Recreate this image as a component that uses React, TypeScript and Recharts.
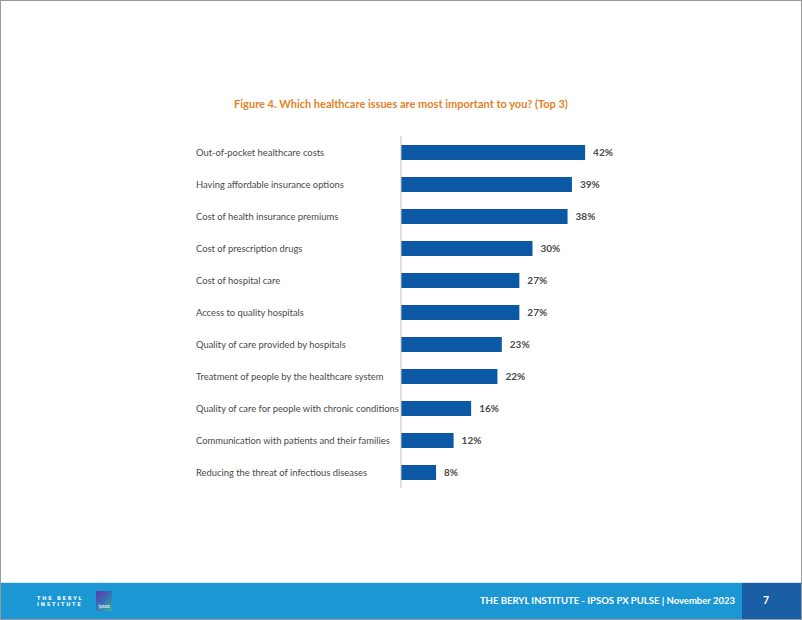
import React from "react";
import { BarChart, Bar, XAxis, YAxis, LabelList } from "recharts";

const categories = [
  "Out-of-pocket healthcare costs",
  "Having affordable insurance options",
  "Cost of health insurance premiums",
  "Cost of prescription drugs",
  "Cost of hospital care",
  "Access to quality hospitals",
  "Quality of care provided by hospitals",
  "Treatment of people by the healthcare system",
  "Quality of care for people with chronic conditions",
  "Communication with patients and their families",
  "Reducing the threat of infectious diseases",
];
const values = [42, 39, 38, 30, 27, 27, 23, 22, 16, 12, 8];

const data = categories.map((name, i) => ({ name, value: values[i] }));

const FONT = "Lato, 'Open Sans', sans-serif";

const LeftTick = (props: any) => {
  const { y, payload } = props;
  return (
    <text x={196} y={y} dy={3.5} textAnchor="start" fontSize={9.4} fill="#4a4a4a" fontFamily={FONT}>
      {payload.value}
    </text>
  );
};

export default function App() {
  return (
    <div style={{ position: "absolute", left: 0, top: 0, width: 802, height: 620, background: "#fff", overflow: "hidden", fontFamily: FONT }}>
      <div style={{ position: "absolute", left: 0, top: 0, width: 800, height: 618, border: "1px solid #9a9a9a", boxSizing: "content-box" }} />
      <div style={{ position: "absolute", left: 0, top: 97, width: 802, textAlign: "center", color: "#e0832a", fontWeight: 700, fontSize: 11 }}>
        Figure 4. Which healthcare issues are most important to you? (Top 3)
      </div>
      <div style={{ position: "absolute", left: 0, top: 0 }}>
        <BarChart
          width={802}
          height={620}
          data={data}
          layout="vertical"
          margin={{ top: 136, bottom: 132, left: 196, right: 138 }}
          barSize={15}
        >
          <XAxis type="number" domain={[0, 60]} hide />
          <YAxis
            type="category"
            dataKey="name"
            width={205}
            tick={<LeftTick />}
            tickLine={false}
            axisLine={{ stroke: "#bdbdbd" }}
            interval={0}
          />
          <Bar dataKey="value" fill="#0b59a4" isAnimationActive={false}>
            <LabelList
              dataKey="value"
              position="right"
              offset={8}
              formatter={(v: any) => `${v}%`}
              style={{ fontSize: 10, fontWeight: 700, fill: "#4a4a4a", fontFamily: FONT }}
            />
          </Bar>
        </BarChart>
      </div>
      <div style={{ position: "absolute", left: 1, top: 582, width: 800, height: 1, background: "#cfe9f6" }} />
      <div style={{ position: "absolute", left: 1, top: 583, width: 741, height: 36, background: "#1b98d4" }} />
      <div style={{ position: "absolute", left: 742, top: 583, width: 59, height: 36, background: "#1a5fa6" }} />
      <div style={{ position: "absolute", left: 37, top: 595, color: "#fff", fontSize: 5, fontWeight: 700, letterSpacing: 1.8, lineHeight: "6px", fontFamily: "DejaVu Sans, sans-serif" }}>
        <div>THE BERYL</div>
        <div>INSTITUTE</div>
      </div>
      <div style={{ position: "absolute", left: 96, top: 591, width: 16, height: 20, background: "linear-gradient(135deg, #5b3aa8 0%, #3b6fb8 50%, #2fb59a 100%)", color: "#fff", fontSize: 5, textAlign: "center", lineHeight: "30px" }}>
        Ipsos
      </div>
      <div style={{ position: "absolute", left: 400, width: 335, top: 595, textAlign: "right", color: "#fff", fontSize: 9.5, fontWeight: 700 }}>
        THE BERYL INSTITUTE - IPSOS PX PULSE | November 2023
      </div>
      <div style={{ position: "absolute", left: 742, width: 48, top: 594, textAlign: "center", color: "#fff", fontSize: 10.5, fontWeight: 700 }}>
        7
      </div>
    </div>
  );
}
